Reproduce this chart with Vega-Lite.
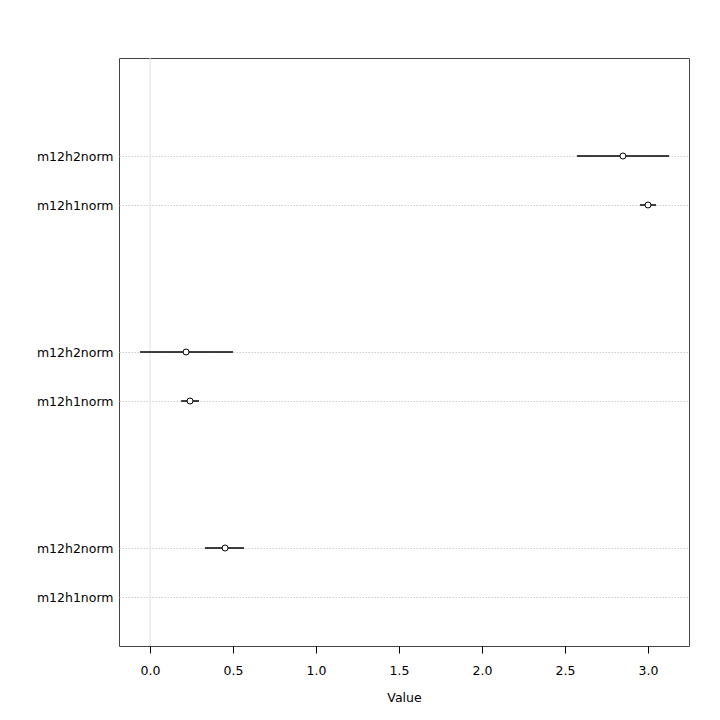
{
  "$schema": "https://vega.github.io/schema/vega-lite/v6.json",
  "width": 570,
  "height": 588,
  "autosize": {"type": "none"},
  "padding": {"left": 119, "top": 58, "right": 31, "bottom": 74},
  "background": "white",
  "config": {
    "font": "DejaVu Sans",
    "view": {"stroke": "#444", "strokeWidth": 1},
    "axis": {"labelFont": "DejaVu Sans", "titleFont": "DejaVu Sans", "labelColor": "black", "titleColor": "black", "labelFontSize": 12.5, "titleFontSize": 12.5, "titleFontWeight": "normal"}
  },
  "data": {
    "values": [
      {"name": "m12h1norm", "pos": 1, "est": null, "lo": null, "hi": null},
      {"name": "m12h2norm", "pos": 2, "est": 0.452, "lo": 0.331, "hi": 0.566},
      {"name": "m12h1norm", "pos": 5, "est": 0.241, "lo": 0.187, "hi": 0.295},
      {"name": "m12h2norm", "pos": 6, "est": 0.217, "lo": -0.06, "hi": 0.5},
      {"name": "m12h1norm", "pos": 9, "est": 3.0, "lo": 2.952, "hi": 3.048},
      {"name": "m12h2norm", "pos": 10, "est": 2.849, "lo": 2.572, "hi": 3.127}
    ]
  },
  "layer": [
    {
      "data": {"values": [{"z": 0}]},
      "mark": {"type": "rule", "color": "#e0e0e0", "strokeWidth": 1},
      "encoding": {
        "x": {"field": "z", "type": "quantitative", "scale": {"domain": [-0.187, 3.247], "nice": false, "zero": false}}
      }
    },
    {
      "mark": {"type": "rule", "color": "black", "strokeWidth": 1.5},
      "encoding": {
        "x": {"field": "lo", "type": "quantitative", "scale": {"domain": [-0.187, 3.247], "nice": false, "zero": false},
          "axis": {"values": [0, 0.5, 1, 1.5, 2, 2.5, 3], "format": ".1f", "title": "Value", "domain": false, "grid": false, "tickSize": 7, "tickColor": "black", "labelPadding": 11, "titlePadding": 15}},
        "x2": {"field": "hi"},
        "y": {"field": "pos", "type": "quantitative", "scale": {"domain": [0, 12], "nice": false, "zero": false},
          "axis": {"values": [1, 2, 5, 6, 9, 10], "labelExpr": "datum.value % 4 == 1 ? 'm12h1norm' : 'm12h2norm'", "title": null, "domain": false, "ticks": false, "labelPadding": 6, "grid": true, "gridColor": "#cccccc", "gridDash": [1.5, 1.5], "gridWidth": 1}}
      }
    },
    {
      "mark": {"type": "point", "shape": "circle", "filled": true, "fill": "white", "stroke": "black", "strokeWidth": 1, "size": 36, "opacity": 1},
      "encoding": {
        "x": {"field": "est", "type": "quantitative"},
        "y": {"field": "pos", "type": "quantitative"}
      }
    }
  ]
}
